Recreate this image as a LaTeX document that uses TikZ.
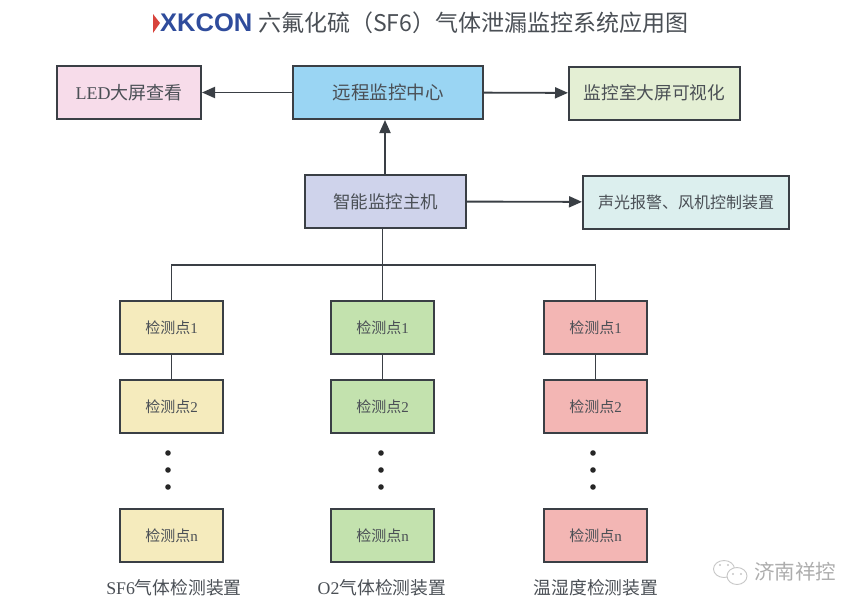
\documentclass[tikz,border=0pt]{standalone}
\usepackage{fontspec}
\setmainfont{Liberation Serif}
\setsansfont{Liberation Sans}
\newfontfamily\cjk{Noto Sans CJK SC}
\usetikzlibrary{arrows.meta}
\definecolor{lineagris}{HTML}{3A3F45}
\definecolor{textogris}{HTML}{4A4F55}
\definecolor{azulmarca}{HTML}{2F4C9C}
\definecolor{rojomarca}{HTML}{D8433C}
\definecolor{rosa}{HTML}{F7DCEA}
\definecolor{celeste}{HTML}{9AD5F3}
\definecolor{verdeclaro}{HTML}{E4EFD4}
\definecolor{lila}{HTML}{CFD3EB}
\definecolor{aguamarina}{HTML}{DCEFEE}
\definecolor{amarillo}{HTML}{F5EBBD}
\definecolor{verde}{HTML}{C3E2AE}
\definecolor{salmon}{HTML}{F3B6B4}
\tikzset{
  caja/.style={draw=lineagris,line width=2pt,text=textogris,minimum height=53pt,inner sep=0pt,font=\fontsize{18}{22}\selectfont},
  punto/.style={caja,minimum width=103pt,font=\fontsize{15}{18}\selectfont},
  enlace/.style={draw=lineagris,line width=1.9pt},
  flecha/.style={enlace,-{Triangle[length=13pt,width=11pt]}},
  pie/.style={text=textogris,font=\fontsize{17.8}{21}\selectfont},
  agua/.style={black!22,line width=.9pt},
}
\begin{document}
\begin{tikzpicture}[x=1pt,y=-1pt]
  \useasboundingbox (0,0) rectangle (868,611);
  \fill[white] (0,0) rectangle (868,611);

  % Titulo
  \fill[rojomarca] (153,14) -- (160,23) -- (153,33) -- cycle;
  \node[anchor=west,inner sep=0pt,text=azulmarca] (marca) at (160,23) {\fontsize{25.5}{27}\selectfont\sffamily\bfseries XKCON};
  \node[anchor=west,inner sep=0pt,text=textogris] (titulo) at (258,23) {\fontsize{23}{27}\selectfont\cjk 六氟化硫（SF6）气体泄漏监控系统应用图};

  % Cajas superiores
  \node[caja,fill=rosa,minimum width=144pt] (led) at (129,92.5) {LED{\cjk 大屏查看}};
  \node[caja,fill=celeste,minimum width=190pt,font=\fontsize{18.5}{22}\selectfont] (centro) at (388,92.5) {\cjk 远程监控中心};
  \node[caja,fill=verdeclaro,minimum width=171pt,font=\fontsize{17.7}{22}\selectfont] (visual) at (654.5,93) {\cjk 监控室大屏可视化};
  \node[caja,fill=lila,minimum width=161pt,font=\fontsize{17.5}{22}\selectfont] (host) at (385.5,201.5) {\cjk 智能监控主机};
  \node[caja,fill=aguamarina,minimum width=206pt,font=\fontsize{16}{19}\selectfont] (alarma) at (686,202) {\cjk 声光报警、风机控制装置};

  \draw[flecha] (centro) -- (led);
  \draw[flecha] (centro) -- (visual);
  \draw[flecha] (host.north -| 385,0) -- (centro.south -| 385,0);
  \draw[flecha] (host) -- (alarma);

  % Columna SF6
  \node[punto,fill=amarillo] (a1) at (171.5,327.5) {{\cjk 检测点}1};
  \node[punto,fill=amarillo] (a2) at (171.5,406.5) {{\cjk 检测点}2};
  \node[punto,fill=amarillo] (an) at (171.5,535.5) {{\cjk 检测点}n};
  \draw[enlace] (a1) -- (a2);
  % Columna O2
  \node[punto,fill=verde] (b1) at (382.5,327.5) {{\cjk 检测点}1};
  \node[punto,fill=verde] (b2) at (382.5,406.5) {{\cjk 检测点}2};
  \node[punto,fill=verde] (bn) at (382.5,535.5) {{\cjk 检测点}n};
  \draw[enlace] (b1) -- (b2);
  % Columna temperatura
  \node[punto,fill=salmon] (c1) at (595.5,327.5) {{\cjk 检测点}1};
  \node[punto,fill=salmon] (c2) at (595.5,406.5) {{\cjk 检测点}2};
  \node[punto,fill=salmon] (cn) at (595.5,535.5) {{\cjk 检测点}n};
  \draw[enlace] (c1) -- (c2);

  \coordinate (bus) at (382.5,265);
  \draw[enlace] (host.south -| bus) -- (b1.north);
  \draw[enlace] (a1.north) |- (bus) -| (c1.north);

  % Puntos suspensivos
  \foreach \x in {168,381,593}
    \foreach \y in {453,470,487}
      \fill[black!85] (\x,\y) circle (2.8);

  % Etiquetas
  \node[pie] (piea) at (174,588) {SF6{\cjk 气体检测装置}};
  \node[pie] (pieb) at (382,588) {O2{\cjk 气体检测装置}};
  \node[pie] (piec) at (596,588) {\cjk 温湿度检测装置};

  % Marca de agua
  \draw[agua,fill=white] (724,569) ellipse (10.5 and 8.5);
  \draw[agua,fill=white] (737,576) ellipse (10 and 8.5);
  \fill[black!22] (720,565) circle (1.2) (728,565) circle (1.2) (733,574) circle (1.1) (741,574) circle (1.1);
  \node[text=black!32] (agua) at (795,572) {\fontsize{20.5}{24}\selectfont\cjk 济南祥控};
\end{tikzpicture}
\end{document}
